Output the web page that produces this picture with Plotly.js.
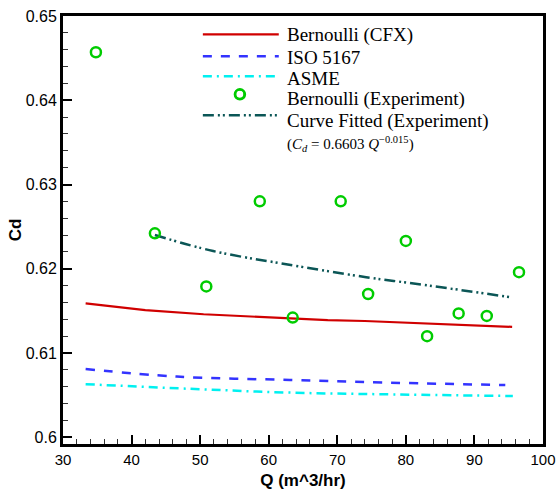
<!DOCTYPE html>
<html>
<head>
<meta charset="utf-8">
<script src="https://cdn.plot.ly/plotly-3.0.1.min.js"></script>
<style>html,body{margin:0;padding:0;background:#fff;}#chart{width:560px;height:491px;}</style>
</head>
<body>
<div id="chart"></div>
<script>
// ---- data ----
const cfxQ  = [33.3, 42.0, 50.5, 58.5, 63.5, 68.6, 74.0, 83.0, 87.6, 95.5];
const cfxCd = [0.6159, 0.6151, 0.6146, 0.6143, 0.6141, 0.6139, 0.6138, 0.6135, 0.6133, 0.6131];

const isoQ  = [33.3, 46.6, 63.1, 76.7, 94.5];
const isoCd = [0.6081, 0.6072, 0.6068, 0.6065, 0.6062];

const asmeQ  = [33.3, 50.0, 63.1, 76.7, 95.6];
const asmeCd = [0.6063, 0.6057, 0.6053, 0.6051, 0.6049];

const expQ  = [34.8, 43.4, 50.9, 55.8, 58.7, 63.5, 70.5, 74.5, 80.0, 83.1, 87.7, 91.8, 96.5];
const expCd = [0.6457, 0.6242, 0.6179, 0.6407, 0.6280, 0.6142, 0.6280, 0.6170, 0.6233, 0.6120, 0.6147, 0.6144, 0.6196];

const fitQ  = [43.4, 51.9, 62.1, 74.2, 82.5, 95.5];
const fitCd = [0.6240, 0.6221, 0.6206, 0.6190, 0.6181, 0.6166];

const xTickVals = [30, 40, 50, 60, 70, 80, 90, 100];
const xTickText = ['30', '40', '50', '60', '70', '80', '90', '100'];
const yTickVals = [0.60, 0.61, 0.62, 0.63, 0.64, 0.65];
const yTickText = ['0.6', '0.61', '0.62', '0.63', '0.64', '0.65'];

const legendNames = ['Bernoulli (CFX)', 'ISO 5167', 'ASME', 'Bernoulli (Experiment)', 'Curve Fitted (Experiment)'];
const formulaText = '(<i>C</i><sub><i>d</i></sub> = 0.6603 <i>Q</i><sup>−0.015</sup>)';

// ---- styles ----
const RED = '#d00000', BLUE = '#3333ff', CYAN = '#00f0f0', TEAL = '#0b5656', GREEN = '#00cc00';
const dashCyan = '9px,5px,2px,5px';
const dashTeal = '11px,4px,2px,3px,2px,4px';

const W = 560, H = 491;
const M = {l: 63, r: 16.5, t: 15.7, b: 47};
const pw = W - M.l - M.r, ph = H - M.t - M.b;
const px = x => (x - M.l) / pw;
const py = y => 1 - (y - M.t) / ph;

const traces = [
  {x: cfxQ, y: cfxCd, mode: 'lines', line: {color: RED, width: 2.2}, showlegend: false},
  {x: isoQ, y: isoCd, mode: 'lines', line: {color: BLUE, width: 2.5, dash: 'dash', shape: 'spline'}, showlegend: false},
  {x: asmeQ, y: asmeCd, mode: 'lines', line: {color: CYAN, width: 2.5, dash: dashCyan, shape: 'spline'}, showlegend: false},
  {x: fitQ, y: fitCd, mode: 'lines', line: {color: TEAL, width: 2.5, dash: dashTeal, shape: 'spline'}, showlegend: false},
  {x: expQ, y: expCd, mode: 'markers', marker: {symbol: 'circle-open', size: 10, color: GREEN, line: {width: 2.5, color: GREEN}}, showlegend: false}
];

// custom legend (positions in pixels, converted to paper coords)
const lx0 = 203, lx1 = 279, ltx = 287;
const sampleY = [34, 56, 76, 94, 115];
const textY = [35, 57, 78, 99, 121];
const shapes = [
  {type: 'line', xref: 'paper', yref: 'paper', x0: px(lx0), x1: px(lx1), y0: py(sampleY[0]), y1: py(sampleY[0]), line: {color: RED, width: 2.2}},
  {type: 'line', xref: 'paper', yref: 'paper', x0: px(lx0), x1: px(lx1), y0: py(sampleY[1]), y1: py(sampleY[1]), line: {color: BLUE, width: 2.5, dash: 'dash'}},
  {type: 'line', xref: 'paper', yref: 'paper', x0: px(lx0), x1: px(lx1), y0: py(sampleY[2]), y1: py(sampleY[2]), line: {color: CYAN, width: 2.5, dash: dashCyan}},
  {type: 'circle', xref: 'paper', yref: 'paper', x0: px(235.5), x1: px(244.5), y0: py(sampleY[3] - 4.5), y1: py(sampleY[3] + 4.5), fillcolor: 'rgba(0,0,0,0)', line: {color: GREEN, width: 2}},
  {type: 'line', xref: 'paper', yref: 'paper', x0: px(lx0), x1: px(lx1), y0: py(sampleY[4]), y1: py(sampleY[4]), line: {color: TEAL, width: 2.5, dash: dashTeal}}
];
const serif = {family: 'Liberation Serif, Times New Roman, serif', size: 19, color: '#000'};
const annotations = legendNames.map((t, i) => ({
  text: t, xref: 'paper', yref: 'paper', x: px(ltx), y: py(textY[i]), xanchor: 'left', yanchor: 'middle',
  showarrow: false, font: serif, xshift: -2
}));
annotations.push({
  text: formulaText, xref: 'paper', yref: 'paper', x: px(ltx), y: py(144), xanchor: 'left', yanchor: 'middle',
  showarrow: false, font: {family: serif.family, size: 15, color: '#000'}, xshift: -2
});

const layout = {
  width: W, height: H,
  margin: M,
  paper_bgcolor: '#fff', plot_bgcolor: '#fff',
  showlegend: false,
  xaxis: {
    range: [30, 100], tickmode: 'array', tickvals: xTickVals, ticktext: xTickText,
    ticks: 'inside', ticklen: 9, tickwidth: 2, tickcolor: '#000',
    minor: {ticks: 'inside', dtick: 2, ticklen: 5, tickwidth: 1, tickcolor: '#333', showgrid: false},
    showline: true, linewidth: 3, linecolor: '#000', mirror: true,
    showgrid: false, zeroline: false,
    tickfont: {family: 'Liberation Sans, Arial, sans-serif', size: 15, color: '#000'},
    title: {text: '<b>Q (m^3/hr)</b>', font: {family: 'Liberation Sans, Arial, sans-serif', size: 17, color: '#000'}, standoff: 8}
  },
  yaxis: {
    range: [0.5992, 0.65], tickmode: 'array', tickvals: yTickVals, ticktext: yTickText,
    ticks: 'inside', ticklen: 9, tickwidth: 2, tickcolor: '#000',
    minor: {ticks: 'inside', dtick: 0.002, ticklen: 5, tickwidth: 1, tickcolor: '#333', showgrid: false},
    showline: true, linewidth: 3, linecolor: '#000', mirror: true,
    showgrid: false, zeroline: false,
    tickfont: {family: 'Liberation Sans, Arial, sans-serif', size: 16, color: '#000'},
    title: {text: '<b>Cd</b>', font: {family: 'Liberation Sans, Arial, sans-serif', size: 17, color: '#000'}, standoff: 0}
  },
  shapes: shapes,
  annotations: annotations
};

Plotly.newPlot('chart', traces, layout, {staticPlot: true, displayModeBar: false});
</script>
</body>
</html>
